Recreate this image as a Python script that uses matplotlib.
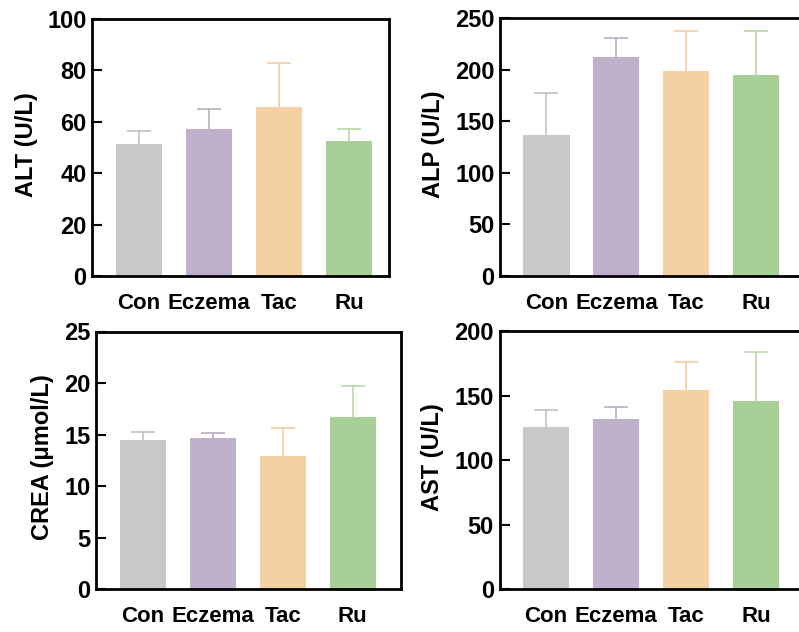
import numpy as np
import matplotlib
matplotlib.use("Agg")
import matplotlib.pyplot as plt

plt.rcParams["font.family"] = ["Liberation Sans", "DejaVu Sans"]
plt.rcParams["font.weight"] = "bold"

# dados
groups = ["Con", "Eczema", "Tac", "Ru"]

alt_mean = [51.2, 57.2, 65.9, 52.5]
alt_err = [5.2, 7.9, 16.9, 4.7]

alp_mean = [136.5, 212.0, 198.8, 195.0]
alp_err = [40.7, 18.8, 38.8, 42.6]

crea_mean = [14.5, 14.7, 12.9, 16.7]
crea_err = [0.8, 0.5, 2.7, 3.0]

ast_mean = [125.4, 131.9, 154.6, 145.8]
ast_err = [13.2, 9.0, 21.1, 37.7]

bar_colors = ["#c8c8c8", "#bfb0cb", "#f5d0a3", "#a8cf96"]
err_colors = ["#bcbcbc", "#b4a5c0", "#f3c99c", "#b2d4a4"]

W, H = 799, 632
fig = plt.figure(figsize=(W / 100, H / 100), dpi=100)


def add_panel(x0, x1, ytop, ybot, xlim, means, errs, ymax, step, label, label_x):
    ax = fig.add_axes([x0 / W, 1 - ybot / H, (x1 - x0) / W, (ybot - ytop) / H])
    x = np.arange(len(groups))
    ax.bar(x, means, width=0.66, color=bar_colors, zorder=2)
    for i in range(len(groups)):
        # só a barra de erro superior
        _, caps, _ = ax.errorbar(x[i], means[i], yerr=[[0], [errs[i]]], color=err_colors[i],
                                 elinewidth=1.1, capsize=8.5, capthick=1.1, zorder=1)
        caps[0].set_visible(False)
    ax.set_xlim(*xlim)
    ax.set_ylim(0, ymax)
    ax.set_yticks(np.arange(0, ymax + step / 2, step))
    ax.set_xticks(x)
    ax.set_xticklabels(groups, fontsize=16, fontweight="bold")
    ax.tick_params(axis="y", direction="in", length=7, width=1.5, labelsize=17, pad=4)
    ax.tick_params(axis="x", length=0, pad=12)
    for lab in ax.get_yticklabels():
        lab.set_fontweight("bold")
    for s in ax.spines.values():
        s.set_linewidth(2)
    fig.text(label_x / W, 1 - ((ytop + ybot) / 2 - 3) / H, label, rotation=90,
             ha="center", va="center", fontsize=17, fontweight="bold")
    return ax


add_panel(92, 389, 19, 276, (-0.671, 3.571), alt_mean, alt_err, 100, 20, "ALT (U/L)", 27)
add_panel(500, 806, 18, 276, (-0.664, 3.71), alp_mean, alp_err, 250, 50, "ALP (U/L)", 433)
add_panel(96, 401, 331.5, 589.3, (-0.667, 3.69), crea_mean, crea_err, 25, 5, "CREA (\u03bcmol/L)", 43)
add_panel(499.5, 806, 331, 589.3, (-0.664, 3.71), ast_mean, ast_err, 200, 50, "AST (U/L)", 432)

plt.savefig("out.png", dpi=100)
